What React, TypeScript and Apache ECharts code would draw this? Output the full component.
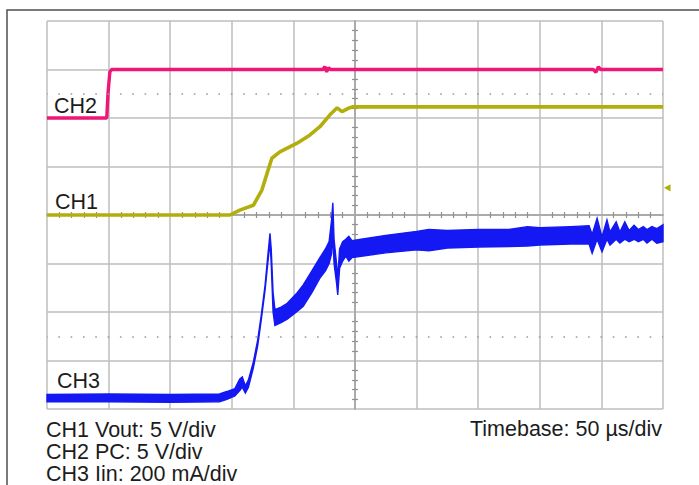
import React, { useEffect, useRef } from "react";
import * as echarts from "echarts";

// ---- data (units: screen divisions; x 0..10 div, y 0..8 div from bottom) ----
const ch2Time = [0, 0.97, 0.99, 1.02, 1.05, 2.0, 3.0, 4.48, 4.51, 4.54, 4.57, 4.6, 6.0, 7.5, 8.87, 8.91, 8.95, 8.99, 10];
const ch2Val = [6.0, 6.0, 6.5, 6.95, 7.0, 7.0, 7.0, 7.0, 7.06, 6.95, 7.04, 7.0, 7.0, 7.0, 7.0, 6.94, 7.05, 7.0, 7.0];

const ch1Time = [0, 2.97, 3.13, 3.35, 3.49, 3.59, 3.65, 3.78, 4.06, 4.27, 4.43, 4.59, 4.71, 4.79, 4.89, 4.97, 10];
const ch1Val = [4.0, 4.0, 4.1, 4.2, 4.52, 4.93, 5.17, 5.3, 5.48, 5.65, 5.82, 6.06, 6.21, 6.13, 6.2, 6.23, 6.23];

const ch3Time = [0, 1.0, 2.0, 2.8, 2.92, 3.05, 3.13, 3.17, 3.22, 3.27, 3.35, 3.42, 3.48, 3.54, 3.58, 3.62, 3.64, 3.67, 3.7, 3.8, 3.9, 4.05, 4.16, 4.3, 4.43, 4.52, 4.58, 4.62, 4.64, 4.66, 4.7, 4.72, 4.75, 4.8, 4.85, 4.9, 4.95, 5.1, 5.5, 6.0, 6.2, 6.5, 7.0, 7.5, 7.8, 8.0, 8.5, 8.8, 8.85, 8.93, 9.01, 9.09, 9.14, 9.24, 9.3, 9.38, 9.45, 9.53, 9.6, 9.68, 9.74, 9.82, 9.9, 10];
const ch3Low = [0.15, 0.15, 0.14, 0.15, 0.2, 0.27, 0.38, 0.45, 0.33, 0.45, 0.85, 1.3, 1.85, 2.45, 2.95, 3.45, 3.0, 2.0, 1.72, 1.78, 1.85, 2.0, 2.12, 2.4, 2.7, 2.85, 3.0, 3.2, 3.6, 3.0, 2.6, 2.35, 2.9, 3.05, 3.15, 3.05, 3.12, 3.15, 3.22, 3.28, 3.26, 3.32, 3.34, 3.35, 3.36, 3.38, 3.4, 3.4, 3.21, 3.5, 3.24, 3.5, 3.38, 3.5, 3.42, 3.5, 3.45, 3.5, 3.45, 3.5, 3.42, 3.5, 3.42, 3.45];
const ch3High = [0.3, 0.31, 0.3, 0.31, 0.36, 0.42, 0.62, 0.66, 0.48, 0.6, 0.97, 1.42, 1.95, 2.55, 3.1, 3.62, 3.3, 2.4, 2.05, 2.1, 2.18, 2.38, 2.56, 2.85, 3.12, 3.3, 3.45, 3.9, 4.25, 3.5, 3.0, 2.7, 3.3, 3.45, 3.5, 3.56, 3.47, 3.5, 3.58, 3.66, 3.7, 3.68, 3.7, 3.7, 3.76, 3.74, 3.76, 3.78, 3.6, 3.93, 3.55, 3.9, 3.65, 3.86, 3.65, 3.86, 3.68, 3.79, 3.7, 3.76, 3.7, 3.76, 3.72, 3.8];

const dottedLevels = [6.5, 1.5];
const triggerLevel = 4.56;

const channelLabels = [
  { text: "CH2", x: 54, y: 105.5 },
  { text: "CH1", x: 55, y: 201.5 },
  { text: "CH3", x: 57, y: 380.5 },
];
const footerLines = ["CH1 Vout: 5 V/div", "CH2 PC: 5 V/div", "CH3 Iin: 200 mA/div"];
const footerY = [429.9, 452.2, 474.2];
const timebaseText = "Timebase: 50 µs/div";

const PINK = "#EE1677";
const OLIVE = "#B2AF0C";
const BLUE = "#1418F2";
const GRIDC = "#BEBEBE";
const FONT = "'Liberation Sans', Arial, Helvetica, sans-serif";
const FS = 21.5;

const G = { left: 47, top: 21, width: 616, height: 388 };

export default function App() {
  const ref = useRef<HTMLDivElement>(null);
  useEffect(() => {
    const chart = echarts.init(ref.current!, null, { renderer: "svg" });
    const hidden = { show: false };
    const centerX = (inside: boolean) => ({
      type: "value",
      min: 0,
      max: 10,
      interval: 1,
      position: "bottom",
      offset: -G.height / 2,
      axisLine: { show: true, onZero: false, lineStyle: { color: "#A8A8A8", width: 1.5 } },
      axisTick: { show: false, inside },
      minorTick: { show: true, splitNumber: 5, length: 3, lineStyle: { color: "#909090", width: 1.2 } },
      axisLabel: hidden,
      splitLine: hidden,
    });
    const centerY = (inside: boolean) => ({
      type: "value",
      min: 0,
      max: 8,
      interval: 1,
      position: "left",
      offset: -G.width / 2,
      axisLine: { show: true, onZero: false, lineStyle: { color: "#A8A8A8", width: 1.5 } },
      axisTick: { show: false, inside },
      minorTick: { show: true, splitNumber: 5, length: 3, lineStyle: { color: "#909090", width: 1.2 } },
      axisLabel: hidden,
      splitLine: hidden,
    });
    const yToPx = (v: number) => G.top + G.height - (v / 8) * G.height;
    const txt = (align: string) => ({
      fill: "#1c1c1c",
      fontSize: FS,
      fontFamily: FONT,
      lineHeight: 19,
      verticalAlign: "middle",
      align,
    });

    chart.setOption({
      animation: false,
      backgroundColor: "#ffffff",
      grid: { left: G.left, top: G.top, width: G.width, height: G.height, containLabel: false },
      xAxis: [
        {
          type: "value",
          min: 0,
          max: 10,
          interval: 1,
          axisLine: hidden,
          axisTick: hidden,
          axisLabel: hidden,
          splitLine: { show: true, lineStyle: { color: GRIDC, width: 1.5 } },
        },
        centerX(false),
        centerX(true),
      ],
      yAxis: [
        {
          type: "value",
          min: 0,
          max: 8,
          interval: 1,
          axisLine: hidden,
          axisTick: hidden,
          axisLabel: hidden,
          splitLine: { show: true, lineStyle: { color: GRIDC, width: 1.5 } },
        },
        centerY(false),
        centerY(true),
      ],
      series: [
        {
          type: "custom",
          name: "CH3",
          xAxisIndex: 0,
          yAxisIndex: 0,
          silent: true,
          z: 3,
          data: ch3Time.map((t, i) => [t, ch3Low[i], ch3High[i]]),
          encode: { x: 0, y: [1, 2] },
          renderItem: (params: any, api: any) => {
            if (params.dataIndex !== 0) return { type: "group", children: [] };
            const top = ch3Time.map((t, i) => api.coord([t, ch3High[i]]));
            const bottom = ch3Time.map((t, i) => api.coord([t, ch3Low[i]])).reverse();
            return {
              type: "polygon",
              shape: { points: top.concat(bottom) },
              style: { fill: BLUE, stroke: BLUE, lineWidth: 1.4 },
            };
          },
        },
        {
          type: "line",
          name: "CH1",
          xAxisIndex: 0,
          yAxisIndex: 0,
          silent: true,
          z: 4,
          symbol: "none",
          data: ch1Time.map((t, i) => [t, ch1Val[i]]),
          lineStyle: { color: OLIVE, width: 3.6 },
          markLine: {
            silent: true,
            symbol: "none",
            label: { show: false },
            lineStyle: { color: "#9A9A9A", width: 1.6, type: [1.6, 10.72], dashOffset: 0.8 },
            data: dottedLevels.map((v) => ({ yAxis: v })),
          },
        },
        {
          type: "line",
          name: "CH2",
          xAxisIndex: 0,
          yAxisIndex: 0,
          silent: true,
          z: 4,
          symbol: "none",
          data: ch2Time.map((t, i) => [t, ch2Val[i]]),
          lineStyle: { color: PINK, width: 3.4 },
        },
      ],
      graphic: [
        {
          type: "rect",
          silent: true,
          shape: { x: 7, y: 10, width: 720, height: 520 },
          style: { fill: "none", stroke: "#505050", lineWidth: 1.5 },
        },
        {
          type: "polygon",
          silent: true,
          shape: {
            points: [
              [G.left + G.width + 1, yToPx(triggerLevel)],
              [G.left + G.width + 7.5, yToPx(triggerLevel) - 3.6],
              [G.left + G.width + 7.5, yToPx(triggerLevel) + 3.6],
            ],
          },
          style: { fill: OLIVE },
        },
        ...channelLabels.map((l) => ({
          type: "text",
          silent: true,
          x: l.x,
          y: l.y,
          style: { text: l.text, ...txt("left") },
        })),
        ...footerLines.map((t, i) => ({
          type: "text",
          silent: true,
          x: 46,
          y: footerY[i],
          style: { text: t, ...txt("left") },
        })),
        {
          type: "text",
          silent: true,
          x: 662,
          y: 429.2,
          style: { text: timebaseText, ...txt("right") },
        },
      ],
    });
    return () => chart.dispose();
  }, []);
  return (
    <div
      ref={ref}
      style={{ position: "fixed", left: 0, top: 0, width: 699, height: 485, background: "#fff" }}
    />
  );
}
